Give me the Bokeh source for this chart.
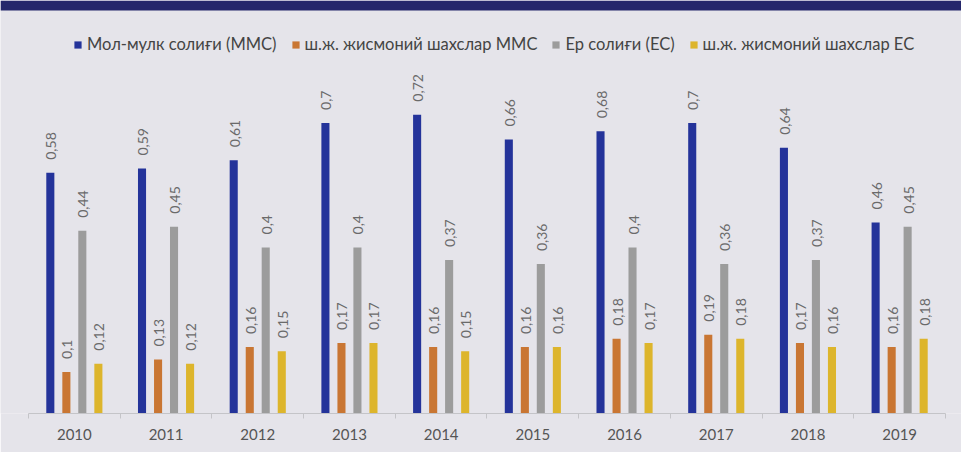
import numpy as np
from bokeh.plotting import figure
from bokeh.models import (ColumnDataSource, Range1d, FixedTicker, Legend, LegendItem,
                          BoxAnnotation)
from bokeh.core.properties import value
from bokeh.embed import file_html
from bokeh.resources import INLINE

years = ["2010", "2011", "2012", "2013", "2014", "2015", "2016", "2017", "2018", "2019"]
series_names = ["Мол-мулк солиғи (ММС)", "ш.ж. жисмоний шахслар ММС",
                "Ер солиғи (ЕС)", "ш.ж. жисмоний шахслар ЕС"]
mms = [0.58, 0.59, 0.61, 0.70, 0.72, 0.66, 0.68, 0.70, 0.64, 0.46]
mms_phys = [0.10, 0.13, 0.16, 0.17, 0.16, 0.16, 0.18, 0.19, 0.17, 0.16]
es = [0.44, 0.45, 0.40, 0.40, 0.37, 0.36, 0.40, 0.36, 0.37, 0.45]
es_phys = [0.12, 0.12, 0.15, 0.17, 0.15, 0.16, 0.17, 0.18, 0.16, 0.18]
colors = ["#24339a", "#c97633", "#9c9c9c", "#ddb52c"]

BG = "#e5e4ea"
FONT = "Lato"

n = len(years)
p = figure(width=961, height=452, output_backend="svg", toolbar_location=None,
           x_range=Range1d(-0.3053, n + 0.1745), y_range=Range1d(0, 0.995),
           min_border_left=0, min_border_right=0, min_border_top=0, min_border_bottom=39)
p.background_fill_color = BG
p.border_fill_color = BG
p.outline_line_color = None
p.grid.visible = False
p.yaxis.visible = False

# top dark band
p.add_layout(BoxAnnotation(bottom=0.971, fill_color="#25276b", fill_alpha=1.0, line_color=None))

centers = np.arange(n) + 0.5
offsets = [-0.262, -0.087, 0.087, 0.262]
bar_w = 0.088

items = []
for vals, name, col, off in zip([mms, mms_phys, es, es_phys], series_names, colors, offsets):
    src = ColumnDataSource(dict(x=centers + off, top=vals,
                                lab=[f"{v:g}".replace(".", ",") for v in vals]))
    r = p.vbar(x="x", top="top", width=bar_w, bottom=0, source=src,
               fill_color=col, line_color=None)
    p.text(x="x", y="top", text="lab", source=src, angle=np.pi / 2,
           text_align="left", text_baseline="middle", x_offset=1, y_offset=-13,
           text_font=value(FONT), text_font_size="14px", text_color="#6a6a6a")
    items.append(LegendItem(label=name, renderers=[r]))

legend = Legend(items=items, orientation="horizontal", location=(73, 359),
                padding=0, spacing=14, glyph_width=9, glyph_height=9, label_standoff=5,
                label_text_font=FONT, label_text_font_size="16.5px", label_text_color="#444444",
                background_fill_alpha=0, border_line_color=None)
p.add_layout(legend, "center")

ax = p.xaxis[0]
ax.bounds = (0, n)
ax.ticker = FixedTicker(ticks=list(centers), minor_ticks=list(range(n + 1)))
ax.major_label_overrides = {float(c): y for c, y in zip(centers, years)}
ax.major_tick_out = 0
ax.major_tick_in = 0
ax.minor_tick_out = 5
ax.minor_tick_in = 0
ax.minor_tick_line_color = "#c4c4c8"
ax.axis_line_color = "#c4c4c8"
ax.major_label_standoff = 10
ax.major_label_text_font = FONT
ax.major_label_text_font_size = "15px"
ax.major_label_text_color = "#555555"

open("out.html", "w").write(file_html(p, INLINE))
